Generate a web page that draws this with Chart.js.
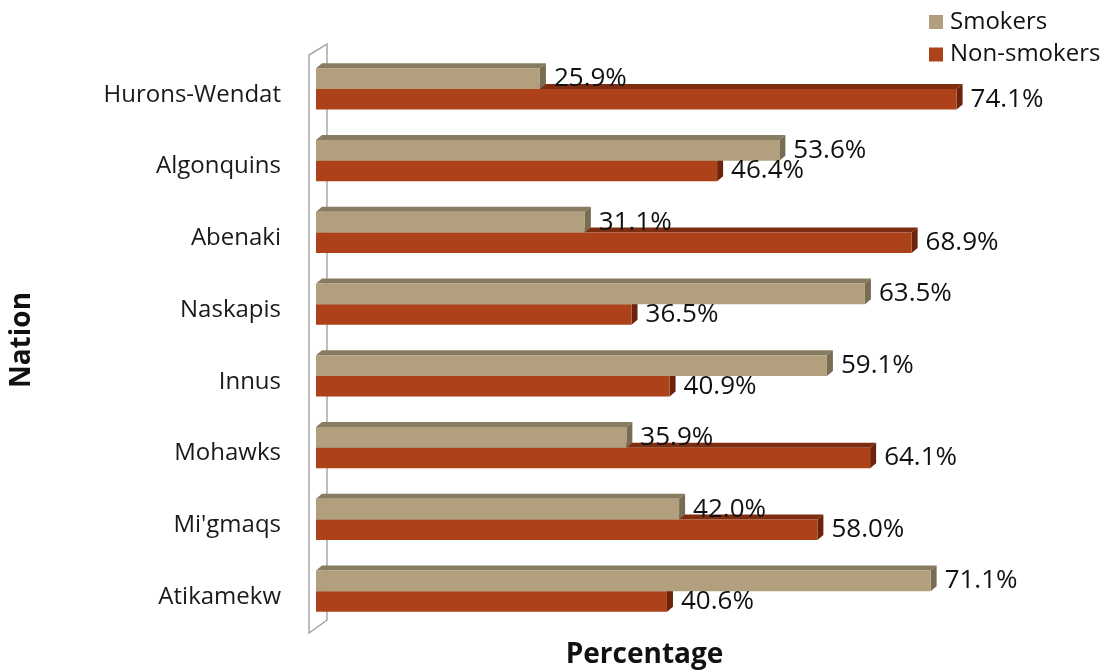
<!DOCTYPE html>
<html>
<head>
<meta charset="utf-8">
<script src="https://cdn.jsdelivr.net/npm/chart.js@4/dist/chart.umd.min.js"></script>
<style>
  html, body { margin: 0; padding: 0; background: #ffffff; }
  #wrap { width: 1115px; height: 672px; position: relative; }
</style>
</head>
<body>
<div id="wrap"><canvas id="chart" width="1115" height="672"></canvas></div>
<script>
// Smoking status by nation (percent of respondents)
const nations = ['Hurons-Wendat', 'Algonquins', 'Abenaki', 'Naskapis', 'Innus', 'Mohawks', "Mi'gmaqs", 'Atikamekw'];
const smokers = [25.9, 53.6, 31.1, 63.5, 59.1, 35.9, 42.0, 71.1];
const nonSmokers = [74.1, 46.4, 68.9, 36.5, 40.9, 64.1, 58.0, 40.6];
const seriesNames = ['Smokers', 'Non-smokers'];

const FONT = "'Open Sans', 'Noto Sans', sans-serif";

// Face colours for the extruded bars: [front, top, side]
const faceColors = [
  ['#b19f7e', '#877c60', '#786d52'],
  ['#ad4119', '#7e2d10', '#6b230b']
];
const DEPTH_X = 6, DEPTH_Y = 5;

// Thin side wall drawn at the left edge of the plot
const wallPlugin = {
  id: 'wall',
  beforeDatasetsDraw(chart) {
    const {ctx, chartArea: a} = chart;
    ctx.save();
    ctx.strokeStyle = '#a8a8a8';
    ctx.lineWidth = 1.5;
    ctx.beginPath();
    ctx.moveTo(a.left - 7, a.top + 2);
    ctx.lineTo(a.left + 11, a.top - 9);
    ctx.lineTo(a.left + 11, a.bottom - 7);
    ctx.lineTo(a.left - 7, a.bottom + 6);
    ctx.closePath();
    ctx.stroke();
    ctx.restore();
  }
};

// Top and end faces behind each bar's front face
const depthPlugin = {
  id: 'depth',
  beforeDatasetsDraw(chart) {
    const ctx = chart.ctx;
    ctx.save();
    for (let d = chart.data.datasets.length - 1; d >= 0; d--) {
      const meta = chart.getDatasetMeta(d);
      meta.data.forEach(el => {
        const p = el.getProps(['x', 'y', 'base', 'height'], true);
        const x0 = p.base, x1 = p.x;
        const yT = p.y - p.height / 2, yB = p.y + p.height / 2;
        ctx.fillStyle = faceColors[d][1];
        ctx.beginPath();
        ctx.moveTo(x0, yT);
        ctx.lineTo(x0 + DEPTH_X, yT - DEPTH_Y);
        ctx.lineTo(x1 + DEPTH_X, yT - DEPTH_Y);
        ctx.lineTo(x1, yT);
        ctx.closePath();
        ctx.fill();
        ctx.fillStyle = faceColors[d][2];
        ctx.beginPath();
        ctx.moveTo(x1, yT);
        ctx.lineTo(x1 + DEPTH_X, yT - DEPTH_Y);
        ctx.lineTo(x1 + DEPTH_X, yB - DEPTH_Y);
        ctx.lineTo(x1, yB);
        ctx.closePath();
        ctx.fill();
      });
    }
    ctx.restore();
  }
};

// Percentage printed just past the end of every bar
const valueLabelPlugin = {
  id: 'valueLabels',
  afterDatasetsDraw(chart) {
    const ctx = chart.ctx;
    ctx.save();
    ctx.font = '26px ' + FONT;
    ctx.fillStyle = '#111111';
    ctx.textAlign = 'left';
    ctx.textBaseline = 'middle';
    chart.data.datasets.forEach((ds, d) => {
      chart.getDatasetMeta(d).data.forEach((el, i) => {
        const p = el.getProps(['x', 'y'], true);
        ctx.fillText(ds.data[i].toFixed(1) + '%', p.x + 14, p.y);
      });
    });
    ctx.restore();
  }
};

// Stacked legend in the top-right corner
const cornerLegendPlugin = {
  id: 'cornerLegend',
  afterDraw(chart) {
    const ctx = chart.ctx;
    ctx.save();
    ctx.font = '24px ' + FONT;
    ctx.textAlign = 'left';
    ctx.textBaseline = 'middle';
    chart.data.datasets.forEach((ds, d) => {
      const cy = 22 + d * 32.5;
      ctx.fillStyle = ds.backgroundColor;
      ctx.fillRect(929, cy - 7, 14, 14);
      ctx.fillStyle = '#111111';
      ctx.fillText(ds.label, 950, cy);
    });
    ctx.restore();
  }
};

new Chart(document.getElementById('chart'), {
  type: 'bar',
  data: {
    labels: nations,
    datasets: [
      { label: seriesNames[0], data: smokers, backgroundColor: faceColors[0][0] },
      { label: seriesNames[1], data: nonSmokers, backgroundColor: faceColors[1][0] }
    ]
  },
  options: {
    indexAxis: 'y',
    responsive: false,
    animation: false,
    devicePixelRatio: 1,
    layout: { padding: { top: 53, right: 142, bottom: 0, left: 0 } },
    datasets: { bar: { categoryPercentage: 0.572, barPercentage: 1.0, borderWidth: 0 } },
    plugins: {
      legend: { display: false },
      tooltip: { enabled: false }
    },
    scales: {
      x: {
        min: 0,
        max: 76,
        grid: { display: false, drawTicks: false },
        border: { display: false },
        ticks: { display: false },
        title: {
          display: true,
          text: 'Percentage',
          color: '#111111',
          font: { family: FONT, size: 28, weight: 'bold' },
          padding: { top: 0, bottom: 0 }
        },
        afterFit(scale) { scale.height = 45; }
      },
      y: {
        grid: { display: false, drawTicks: false },
        border: { display: false },
        ticks: {
          color: '#1a1a1a',
          font: { family: FONT, size: 24 },
          padding: 35,
          labelOffset: 6
        },
        title: {
          display: true,
          text: 'Nation',
          color: '#111111',
          font: { family: FONT, size: 28, weight: 'bold' },
          padding: { top: 5, bottom: 0 }
        },
        afterFit(scale) {
          scale.width = 316;
          scale.paddingTop = 0;
          scale.paddingBottom = 0;
        }
      }
    }
  },
  plugins: [wallPlugin, depthPlugin, valueLabelPlugin, cornerLegendPlugin]
});
</script>
</body>
</html>
